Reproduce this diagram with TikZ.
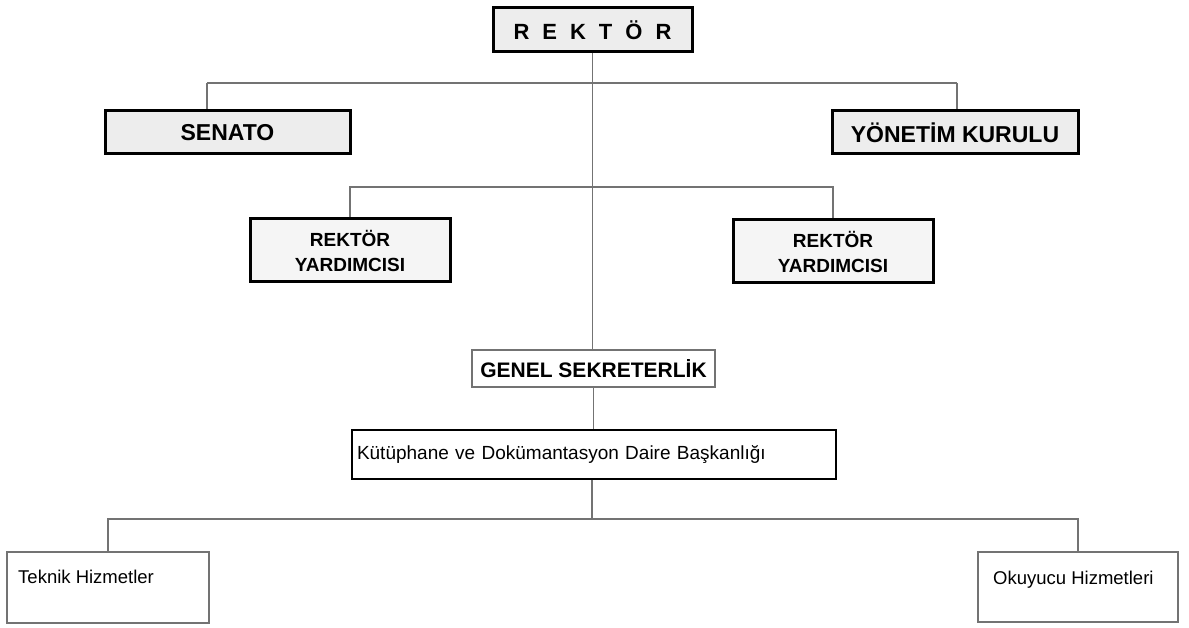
\documentclass[tikz,border=0pt]{standalone}
\usepackage{fontspec}
\setmainfont{Liberation Sans}
\begin{document}
\begin{tikzpicture}[x=1pt,y=-1pt,
  topbox/.style={draw=black, line width=3pt, fill=black!7, inner sep=0pt, align=center},
  secbox/.style={draw=black!55, line width=1.8pt, fill=white, inner sep=0pt},
  kutbox/.style={draw=black, line width=1.5pt, fill=white, inner xsep=5pt, inner ysep=0pt, align=left},
  unitbox/.style={draw=black!55, line width=1.8pt, fill=white, inner sep=0pt},
  unittext/.style={inner sep=0pt, anchor=base west, font=\fontsize{18.5}{22}\selectfont},
  conn/.style={draw=black!55, line width=1.6pt}]
\useasboundingbox (0,0) rectangle (1189,628);

\coordinate (sd) at (207,83);
\coordinate (yd) at (957,83);
\coordinate (h2) at (592,187);
\coordinate (h3) at (592,519);

\node[topbox, minimum width=199pt, minimum height=44pt, font=\bfseries\fontsize{22}{26}\selectfont] (rek) at (592.5,30)
  {\spaceskip=13pt R E K T Ö R};
\node[topbox, minimum width=245pt, minimum height=43pt, font=\bfseries\fontsize{23}{27}\selectfont] (sen) at (227.5,132.5)
  {SENATO};
\node[topbox, minimum width=246pt, minimum height=43pt, font=\bfseries\fontsize{23}{27}\selectfont] (yk) at (955,132.5)
  {YÖNETİM KURULU};
\node[topbox, fill=black!4, minimum width=200pt, minimum height=63pt, font=\bfseries\fontsize{19}{25}\selectfont] (ry1) at (350,250.5)
  {REKTÖR\\YARDIMCISI};
\node[topbox, fill=black!4, minimum width=200pt, minimum height=63pt, font=\bfseries\fontsize{19}{25}\selectfont] (ry2) at (833,251.5)
  {REKTÖR\\YARDIMCISI};
\node[secbox, minimum width=243pt, minimum height=37pt, font=\bfseries\fontsize{21}{25}\selectfont] (gs) at (593.5,368.5)
  {GENEL SEKRETERLİK};
\node[kutbox, text width=474pt, minimum height=49pt, font=\fontsize{19}{23}\selectfont] (kut) at (594,454.5)
  {Kütüphane ve Dokümantasyon Daire Başkanlığı};
\node[unitbox, minimum width=202pt, minimum height=71pt] (tek) at (108,587.5) {};
\node[unitbox, minimum width=200pt, minimum height=70pt] (oku) at (1078,587) {};
\node[unittext] (tektxt) at (18,583) {Teknik Hizmetler};
\node[unittext] (okutxt) at (993,584) {Okuyucu Hizmetleri};

\draw[conn] (rek.south) -- (rek.south |- gs.north);
\draw[conn] (sd) -- (yd);
\draw[conn] (sd) -- (sd |- sen.north);
\draw[conn] (yd) -- (yd |- yk.north);
\draw[conn] (ry1.north) |- (h2) -| (ry2.north);
\draw[conn] (gs.south) -- (gs.south |- kut.north);
\draw[conn] (kut.south -| h3) -- (h3);
\draw[conn] (tek.north) |- (h3) -| (oku.north);
\end{tikzpicture}
\end{document}
